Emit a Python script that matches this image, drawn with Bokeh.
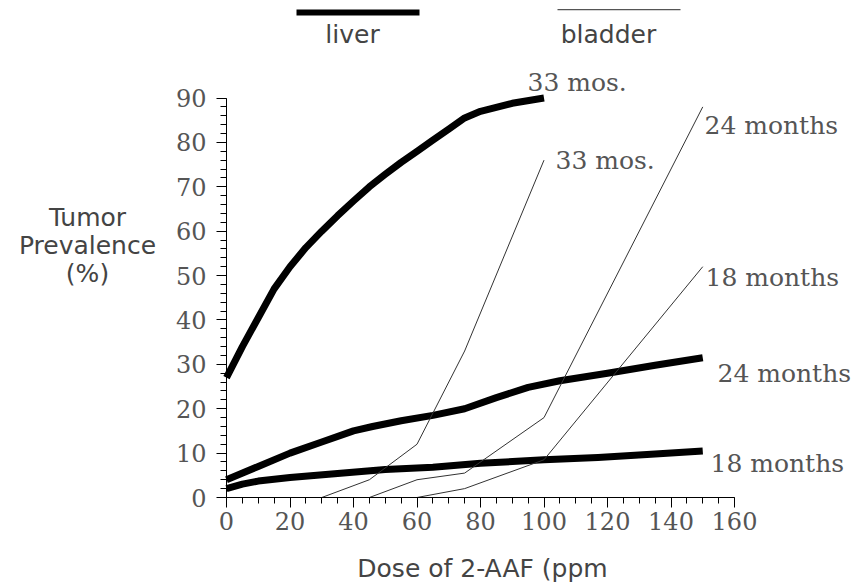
from bokeh.plotting import figure
from bokeh.models import Range1d, LinearAxis, SingleIntervalTicker, Label, BoxAnnotation
from bokeh.embed import file_html
from bokeh.resources import INLINE

# ---------------- data ----------------
liver_33_dose = [0, 5, 10, 15, 20, 25, 30, 35, 40, 45, 50, 55, 60, 65, 70, 75, 80, 90, 100]
liver_33_pct = [27, 34, 40.5, 47, 52, 56.3, 60, 63.5, 66.8, 70, 72.8, 75.5, 78, 80.5, 83,
                85.5, 87, 88.8, 90]
liver_24_dose = [0, 10, 20, 30, 40, 46, 55, 65, 75, 85, 95, 105, 120, 135, 150]
liver_24_pct = [4, 7, 10, 12.5, 15, 16, 17.3, 18.5, 20, 22.5, 24.8, 26.3, 28, 29.8, 31.5]
liver_18_dose = [0, 5, 10, 20, 35, 50, 65, 80, 100, 117, 135, 150]
liver_18_pct = [2, 3, 3.7, 4.5, 5.4, 6.3, 6.8, 7.7, 8.5, 9, 9.8, 10.5]
bladder_33_dose = [30, 45, 60, 75, 100]
bladder_33_pct = [0, 4, 12, 33, 76]
bladder_24_dose = [45, 60, 75, 100, 150]
bladder_24_pct = [0, 4, 5.5, 18, 88]
bladder_18_dose = [60, 75, 100, 150]
bladder_18_pct = [0, 2, 8.5, 52]
series_labels = ["33 mos.", "24 months", "18 months", "33 mos.", "24 months", "18 months"]
legend_labels = ["liver", "bladder"]
x_title = "Dose of 2-AAF (ppm"
y_title = ["Tumor", "Prevalence", "(%)"]

# ---------------- layout ----------------
W, H = 856, 586
X0, XS = 226.0, 508.0 / 160.0     # canvas px of dose 0, px per ppm
Y0, YS = 497.0, 399.5 / 90.0      # canvas px (from top) of 0 %, px per %


def dx(px):  # reference-image px -> data x
    return (px - X0) / XS


def dy(py):  # reference-image px -> data y
    return (Y0 - py) / YS


p = figure(width=W, height=H,
           x_range=Range1d(-X0 / XS, (W - X0) / XS),
           y_range=Range1d(-(H - Y0) / YS, Y0 / YS),
           x_axis_type=None, y_axis_type=None,
           output_backend="svg", toolbar_location=None,
           min_border=0, outline_line_color=None)
p.background_fill_color = "white"

TICK_FONT = "DejaVu Serif"
TXT = "#555555"

xaxis = LinearAxis(fixed_location=0, bounds=(0, 160),
                   ticker=SingleIntervalTicker(interval=20, num_minor_ticks=4))
yaxis = LinearAxis(fixed_location=0, bounds=(0, 90),
                   ticker=SingleIntervalTicker(interval=10, num_minor_ticks=5))
for ax in (xaxis, yaxis):
    ax.axis_line_color = "black"
    ax.axis_line_width = 1
    ax.major_tick_line_color = "black"
    ax.minor_tick_line_color = "black"
    ax.major_tick_in = 0
    ax.minor_tick_in = 0
    ax.major_tick_out = 10
    ax.minor_tick_out = 6
    ax.major_label_text_font = TICK_FONT
    ax.major_label_text_font_size = "24px"
    ax.major_label_text_color = TXT
xaxis.major_label_standoff = 4
yaxis.major_label_standoff = 10
p.add_layout(xaxis, "below")
p.add_layout(yaxis, "left")

# liver (thick)
for xs_, ys_ in ((liver_33_dose, liver_33_pct), (liver_24_dose, liver_24_pct),
                 (liver_18_dose, liver_18_pct)):
    p.line(xs_, ys_, line_color="black", line_width=7, line_join="round", line_cap="butt")

# bladder (thin)
for xs_, ys_ in ((bladder_33_dose, bladder_33_pct), (bladder_24_dose, bladder_24_pct),
                 (bladder_18_dose, bladder_18_pct)):
    p.line(xs_, ys_, line_color="#333333", line_width=1)

# curve labels
label_pos = [(527, 82), (717, 373), (710, 463), (555, 160), (704, 125), (705, 277)]
for txt, (px, py) in zip(series_labels, label_pos):
    p.add_layout(Label(x=dx(px), y=dy(py), text=txt, text_align="left",
                       text_baseline="middle", text_font=TICK_FONT,
                       text_font_size="25px", text_color=TXT))

# legend keys
p.add_layout(BoxAnnotation(left=dx(296), right=dx(419), top=dy(9), bottom=dy(15),
                           fill_color="black", fill_alpha=1, line_color=None))
p.add_layout(BoxAnnotation(left=dx(557), right=dx(680), top=dy(8.5), bottom=dy(9.7),
                           fill_color="#555555", fill_alpha=1, line_color=None))
for txt, px in zip(legend_labels, (352, 608)):
    p.add_layout(Label(x=dx(px), y=dy(34), text=txt, text_align="center",
                       text_baseline="middle", text_font="DejaVu Sans",
                       text_font_size="25px", text_color="#444444"))

# axis titles
for txt, py in zip(y_title, (217, 245, 273)):
    p.add_layout(Label(x=dx(87), y=dy(py), text=txt, text_align="center",
                       text_baseline="middle", text_font="DejaVu Sans",
                       text_font_size="25px", text_color="#444444"))
p.add_layout(Label(x=dx(482), y=dy(568), text=x_title, text_align="center",
                   text_baseline="middle", text_font="DejaVu Sans",
                   text_font_size="25px", text_color="#444444"))

open("out.html", "w").write(file_html(p, INLINE))
